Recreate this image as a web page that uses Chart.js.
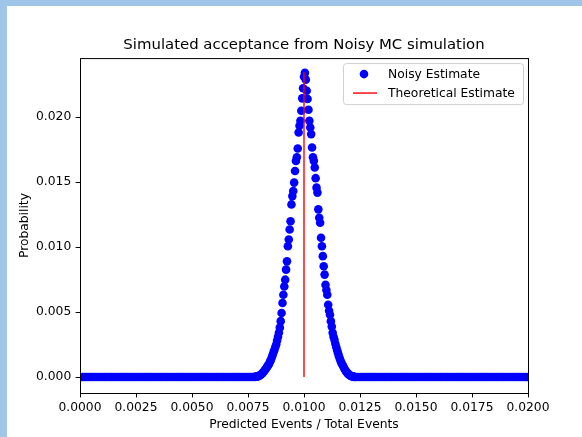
<!DOCTYPE html>
<html>
<head>
<meta charset="utf-8">
<title>Simulated acceptance</title>
<script src="https://cdn.jsdelivr.net/npm/chart.js@4.4.1/dist/chart.umd.min.js"></script>
<style>
  html, body { margin: 0; padding: 0; }
  body { width: 582px; height: 437px; background: #9fc5e8; position: relative; overflow: hidden; }
  #chart { position: absolute; left: 7px; top: 6px; background: #ffffff; }
</style>
</head>
<body>
<canvas id="chart" width="575" height="431"></canvas>
<script>
// Flat part of the distribution, left of the peak
const baseLeftX = [
  0.0000, 0.0001, 0.0002, 0.0003, 0.0004, 0.0005, 0.0006, 0.0007, 0.0008, 0.0009,
  0.0010, 0.0011, 0.0012, 0.0013, 0.0014, 0.0015, 0.0016, 0.0017, 0.0018, 0.0019,
  0.0020, 0.0021, 0.0022, 0.0023, 0.0024, 0.0025, 0.0026, 0.0027, 0.0028, 0.0029,
  0.0030, 0.0031, 0.0032, 0.0033, 0.0034, 0.0035, 0.0036, 0.0037, 0.0038, 0.0039,
  0.0040, 0.0041, 0.0042, 0.0043, 0.0044, 0.0045, 0.0046, 0.0047, 0.0048, 0.0049,
  0.0050, 0.0051, 0.0052, 0.0053, 0.0054, 0.0055, 0.0056, 0.0057, 0.0058, 0.0059,
  0.0060, 0.0061, 0.0062, 0.0063, 0.0064, 0.0065, 0.0066, 0.0067, 0.0068, 0.0069,
  0.0070, 0.0071, 0.0072, 0.0073, 0.0074, 0.0075, 0.0076, 0.0077
];
const baseLeftY = [
  0, 0, 0, 0, 0, 0, 0, 0, 0, 0,
  0, 0, 0, 0, 0, 0, 0, 0, 0, 0,
  0, 0, 0, 0, 0, 0, 0, 0, 0, 0,
  0, 0, 0, 0, 0, 0, 0, 0, 0, 0,
  0, 0, 0, 0, 0, 0, 0, 0, 0, 0,
  0, 0, 0, 0, 0, 0, 0, 0, 0, 0,
  0, 0, 0, 0, 0, 0, 0, 0, 0, 0,
  0, 0, 0, 0, 0, 0, 0, 0
];

// Peak region around 0.01
const peakX = [
  0.00780, 0.00784, 0.00788, 0.00792, 0.00796, 0.00800, 0.00804, 0.00808, 0.00812, 0.00816,
  0.00820, 0.00824, 0.00828, 0.00832, 0.00836, 0.00840, 0.00844, 0.00848, 0.00852, 0.00856,
  0.00860, 0.00864, 0.00868, 0.00872, 0.00876, 0.00880, 0.00884, 0.00888, 0.00892, 0.00896,
  0.00900, 0.00904, 0.00908, 0.00912, 0.00916, 0.00920, 0.00924, 0.00928, 0.00932, 0.00936,
  0.00940, 0.00944, 0.00948, 0.00952, 0.00956, 0.00960, 0.00964, 0.00968, 0.00972, 0.00976,
  0.00980, 0.00984, 0.00988, 0.00992, 0.00996, 0.01000, 0.01004, 0.01008, 0.01012, 0.01016,
  0.01020, 0.01024, 0.01028, 0.01032, 0.01036, 0.01040, 0.01044, 0.01048, 0.01052, 0.01056,
  0.01060, 0.01064, 0.01068, 0.01072, 0.01076, 0.01080, 0.01084, 0.01088, 0.01092, 0.01096,
  0.01100, 0.01104, 0.01108, 0.01112, 0.01116, 0.01120, 0.01124, 0.01128, 0.01132, 0.01136,
  0.01140, 0.01144, 0.01148, 0.01152, 0.01156, 0.01160, 0.01164, 0.01168, 0.01172, 0.01176,
  0.01180, 0.01184, 0.01188, 0.01192, 0.01196, 0.01200, 0.01204, 0.01208, 0.01212, 0.01216,
  0.01220, 0.01224
];
const peakY = [
  0.00001, 0.00002, 0.00003, 0.00005, 0.00007, 0.00010, 0.00014, 0.00019, 0.00025, 0.00032,
  0.00040, 0.00050, 0.00060, 0.00070, 0.00080, 0.00090, 0.00100, 0.00120, 0.00130, 0.00150,
  0.00170, 0.00190, 0.00210, 0.00230, 0.00250, 0.00280, 0.00310, 0.00340, 0.00380, 0.00430,
  0.00492, 0.00569, 0.00633, 0.00697, 0.00749, 0.00826, 0.00890, 0.01006, 0.01058, 0.01135,
  0.01199, 0.01328, 0.01392, 0.01431, 0.01496, 0.01585, 0.01663, 0.01691, 0.01758, 0.01882,
  0.01933, 0.01971, 0.02049, 0.02144, 0.02222, 0.02310, 0.02340, 0.02288, 0.02203, 0.02139,
  0.02056, 0.01971, 0.01920, 0.01869, 0.01766, 0.01691, 0.01663, 0.01612, 0.01530, 0.01457,
  0.01419, 0.01290, 0.01225, 0.01187, 0.01071, 0.01006, 0.00930, 0.00852, 0.00788, 0.00710,
  0.00670, 0.00633, 0.00556, 0.00510, 0.00479, 0.00430, 0.00388, 0.00340, 0.00310, 0.00286,
  0.00255, 0.00230, 0.00205, 0.00183, 0.00160, 0.00140, 0.00122, 0.00106, 0.00092, 0.00080,
  0.00066, 0.00054, 0.00043, 0.00034, 0.00026, 0.00019, 0.00014, 0.00010, 0.00007, 0.00005,
  0.00003, 0.00001
];

// Flat part right of the peak
const baseRightX = [
  0.0123, 0.0124, 0.0125, 0.0126, 0.0127, 0.0128, 0.0129, 0.0130, 0.0131, 0.0132,
  0.0133, 0.0134, 0.0135, 0.0136, 0.0137, 0.0138, 0.0139, 0.0140, 0.0141, 0.0142,
  0.0143, 0.0144, 0.0145, 0.0146, 0.0147, 0.0148, 0.0149, 0.0150, 0.0151, 0.0152,
  0.0153, 0.0154, 0.0155, 0.0156, 0.0157, 0.0158, 0.0159, 0.0160, 0.0161, 0.0162,
  0.0163, 0.0164, 0.0165, 0.0166, 0.0167, 0.0168, 0.0169, 0.0170, 0.0171, 0.0172,
  0.0173, 0.0174, 0.0175, 0.0176, 0.0177, 0.0178, 0.0179, 0.0180, 0.0181, 0.0182,
  0.0183, 0.0184, 0.0185, 0.0186, 0.0187, 0.0188, 0.0189, 0.0190, 0.0191, 0.0192,
  0.0193, 0.0194, 0.0195, 0.0196, 0.0197, 0.0198, 0.0199, 0.0200
];
const baseRightY = [
  0, 0, 0, 0, 0, 0, 0, 0, 0, 0,
  0, 0, 0, 0, 0, 0, 0, 0, 0, 0,
  0, 0, 0, 0, 0, 0, 0, 0, 0, 0,
  0, 0, 0, 0, 0, 0, 0, 0, 0, 0,
  0, 0, 0, 0, 0, 0, 0, 0, 0, 0,
  0, 0, 0, 0, 0, 0, 0, 0, 0, 0,
  0, 0, 0, 0, 0, 0, 0, 0, 0, 0,
  0, 0, 0, 0, 0, 0, 0, 0
];

// Theoretical estimate: vertical line at the expected ratio
const theoryX = [0.0100, 0.0100];
const theoryY = [0, 0.02345];

const xTicks = [0, 0.0025, 0.005, 0.0075, 0.01, 0.0125, 0.015, 0.0175, 0.02];
const yTicks = [0, 0.005, 0.01, 0.015, 0.02];

const FONT = 'DejaVu Sans';
const BLUE = '#0000ff';
const RED = '#ff0000';

const toPoints = (xs, ys) => xs.map((x, i) => ({ x: x, y: ys[i] }));

const noisyPoints = [
  ...toPoints(baseLeftX, baseLeftY),
  ...toPoints(peakX, peakY),
  ...toPoints(baseRightX, baseRightY)
];

// Box around the axes plus a legend inside the upper right corner
const frameAndLegend = {
  id: 'frameAndLegend',
  afterDraw(chart) {
    const { ctx, chartArea: a } = chart;
    ctx.save();

    ctx.strokeStyle = '#000000';
    ctx.lineWidth = 1;
    ctx.strokeRect(a.left + 0.5, a.top + 0.5, a.right - a.left, a.bottom - a.top);

    const w = 180, h = 41;
    const bx = a.right - 5 - w;
    const by = a.top + 5;
    ctx.beginPath();
    ctx.roundRect(bx + 0.5, by + 0.5, w, h, 3);
    ctx.fillStyle = 'rgba(255,255,255,0.8)';
    ctx.fill();
    ctx.strokeStyle = '#d0d0d0';
    ctx.stroke();

    ctx.fillStyle = BLUE;
    ctx.beginPath();
    ctx.arc(bx + 21, by + 11, 4.3, 0, Math.PI * 2);
    ctx.fill();

    ctx.strokeStyle = RED;
    ctx.lineWidth = 1.4;
    ctx.beginPath();
    ctx.moveTo(bx + 10, by + 30);
    ctx.lineTo(bx + 34, by + 30);
    ctx.stroke();

    ctx.fillStyle = '#000000';
    ctx.font = '12.3px "' + FONT + '"';
    ctx.textBaseline = 'middle';
    ctx.textAlign = 'left';
    ctx.fillText(chart.data.datasets[0].label, bx + 45, by + 11.5);
    ctx.fillText(chart.data.datasets[1].label, bx + 45, by + 30.5);

    ctx.restore();
  }
};

const tickFont = { family: FONT, size: 12.3 };

new Chart(document.getElementById('chart'), {
  type: 'scatter',
  data: {
    datasets: [
      {
        label: 'Noisy Estimate',
        data: noisyPoints,
        backgroundColor: BLUE,
        borderWidth: 0,
        pointRadius: 4.3,
        pointHoverRadius: 4.3,
        clip: 0,
        order: 1
      },
      {
        label: 'Theoretical Estimate',
        data: toPoints(theoryX, theoryY),
        showLine: true,
        borderColor: RED,
        borderWidth: 1.4,
        pointRadius: 0,
        order: 0
      }
    ]
  },
  options: {
    responsive: false,
    animation: false,
    devicePixelRatio: 1,
    events: [],
    layout: { padding: { left: 0, right: 54, top: 0, bottom: 0 } },
    plugins: {
      legend: { display: false },
      tooltip: { enabled: false },
      title: {
        display: true,
        fullSize: false,
        text: 'Simulated acceptance from Noisy MC simulation',
        color: '#000000',
        font: { family: FONT, size: 14.9, weight: 'normal' },
        padding: { top: 30.6, bottom: 3.6 }
      }
    },
    scales: {
      x: {
        type: 'linear',
        min: 0,
        max: 0.02,
        afterBuildTicks: axis => { axis.ticks = xTicks.map(value => ({ value })); },
        afterFit: axis => { axis.height = 44; },
        ticks: {
          callback: v => v.toFixed(4),
          color: '#000000',
          font: tickFont,
          padding: 3,
          maxRotation: 0,
          autoSkip: false
        },
        grid: { drawOnChartArea: false, tickLength: 4.4, color: '#000000' },
        border: { display: false },
        title: {
          display: true,
          text: 'Predicted Events / Total Events',
          color: '#000000',
          font: tickFont,
          padding: { top: 0, bottom: 4.6 }
        }
      },
      y: {
        type: 'linear',
        min: -0.00123,
        max: 0.02454,
        afterBuildTicks: axis => { axis.ticks = yTicks.map(value => ({ value })); },
        afterFit: axis => { axis.width = 73; },
        ticks: {
          callback: v => v.toFixed(3),
          color: '#000000',
          font: tickFont,
          padding: 4.4,
          autoSkip: false
        },
        grid: { drawOnChartArea: false, tickLength: 4.4, color: '#000000' },
        border: { display: false },
        title: {
          display: true,
          text: 'Probability',
          color: '#000000',
          font: tickFont,
          padding: { top: 10.6, bottom: 0 }
        }
      }
    }
  },
  plugins: [frameAndLegend]
});
</script>
</body>
</html>
